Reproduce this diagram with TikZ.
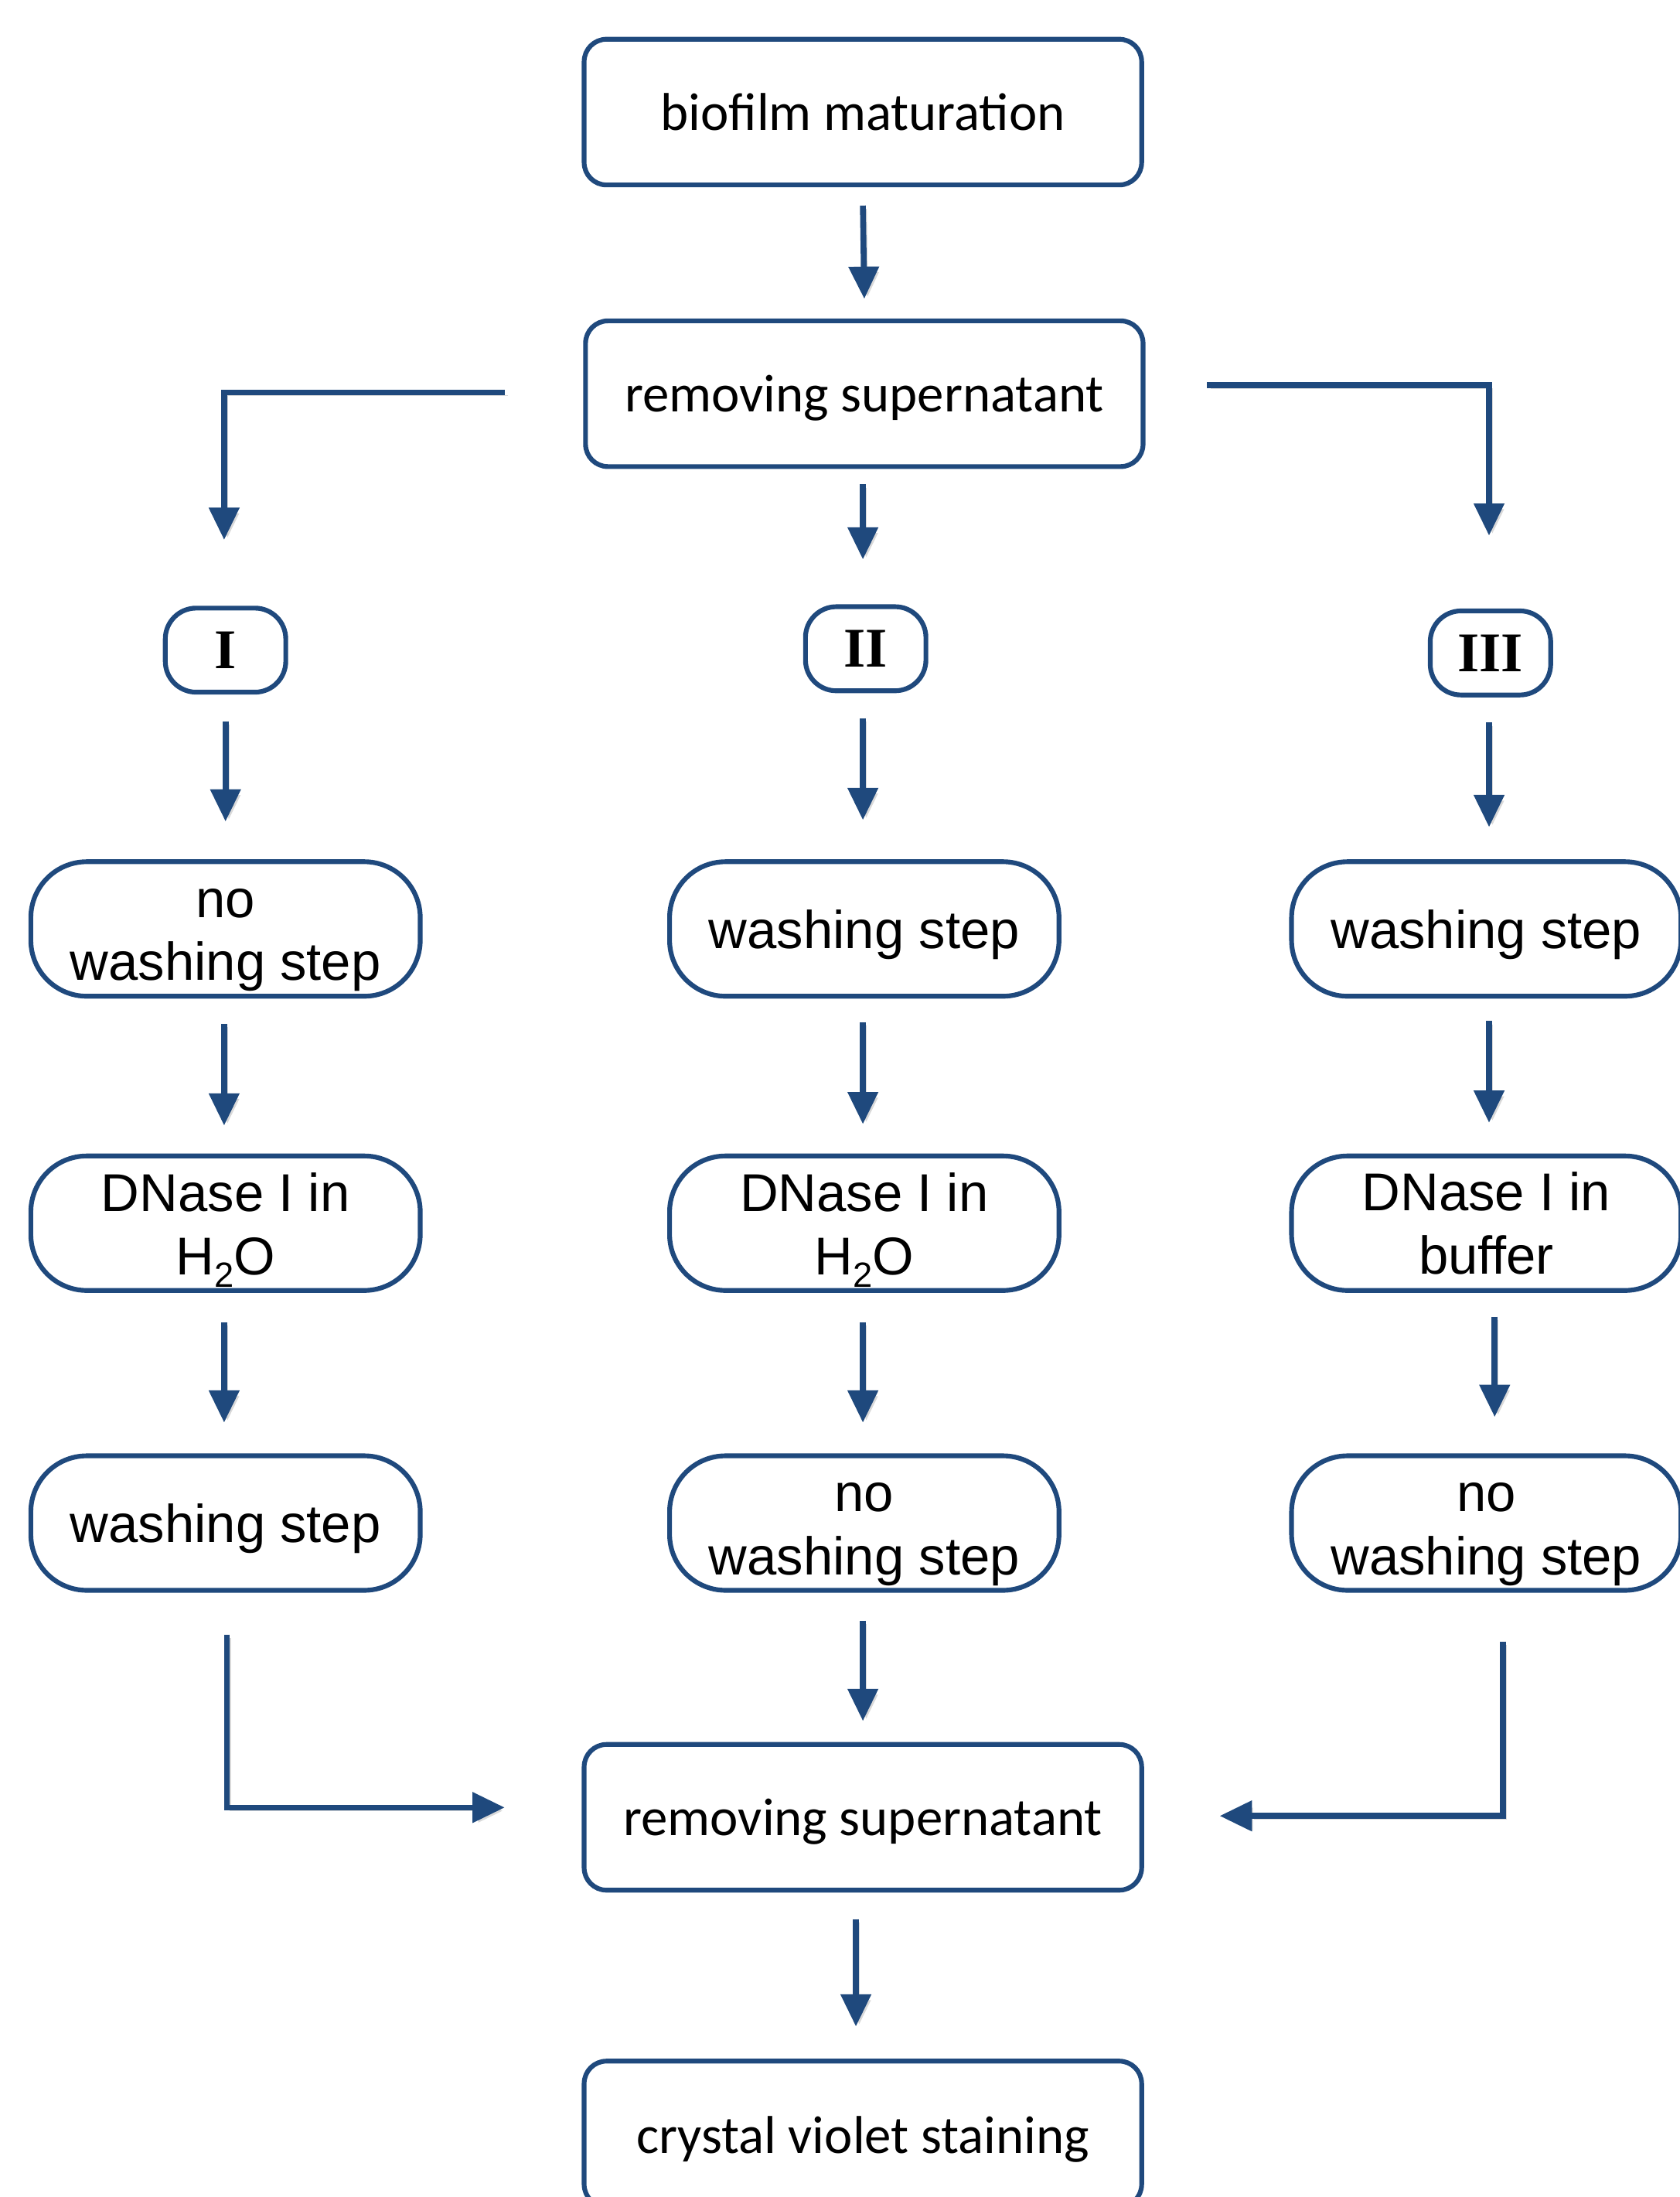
\documentclass[tikz,border=0pt]{standalone}
\usepackage{fontspec}
\setmainfont{Liberation Sans}
\newfontfamily\calfont{Carlito}
\newfontfamily\romfont{Liberation Serif}
\usetikzlibrary{arrows.meta,calc}
\definecolor{flowblue}{RGB}{31,73,125}
\newcommand{\subtwo}{\raisebox{-4.6pt}{\fontsize{12.5}{12.5}\selectfont 2}}
\tikzset{
  topbox/.style={draw=flowblue, line width=1.7pt, rounded corners=8pt, minimum width=199pt, minimum height=52pt, inner sep=0pt},
  toptxt/.style={inner sep=0pt, font=\calfont\fontsize{19}{23}\selectfont},
  colbox/.style={draw=flowblue, line width=1.7pt, rounded corners=20pt, minimum width=139pt, minimum height=48pt, inner sep=0pt},
  coltxt/.style={inner sep=0pt, align=center, font=\fontsize{19}{22.5}\selectfont},
  numbox/.style={draw=flowblue, line width=1.7pt, rounded corners=11pt, minimum width=43pt, minimum height=30pt, inner sep=0pt, font=\romfont\bfseries\fontsize{20}{23}\selectfont},
  arr/.style={draw=flowblue, line width=2.1pt, -{Triangle[length=11.5pt,width=10.5pt]},
    preaction={draw=black!15, transform canvas={xshift=1.2pt,yshift=-1.2pt}}}
}
\begin{document}
\begin{tikzpicture}[x=0.5pt,y=-0.5pt]
\useasboundingbox (0,0) rectangle (1199,1568);
% top part
\node[topbox] (A) at (616,80) {};
\node[toptxt] (At) at (616,80) {biofilm maturation};
\node[topbox] (B) at (617,281) {};
\node[toptxt] (Bt) at (617,284) {removing supernatant};
\node[numbox] (I) at (161,464) {I};
\node[numbox] (II) at (618,463) {II};
\node[numbox] (III) at (1064,466) {III};
% row 1
\node[colbox] (l1) at (161,663) {};
\node[coltxt] (l1t) at (161,671) {no\\washing step};
\node[colbox] (m1) at (617,663) {};
\node[coltxt] (m1t) at (617,667) {washing step};
\node[colbox] (r1) at (1061,663) {};
\node[coltxt] (r1t) at (1061,667) {washing step};
% row 2
\node[colbox] (l2) at (161,873) {};
\node[coltxt] (l2t) at (161,878) {DNase I in\\H\subtwo O};
\node[colbox] (m2) at (617,873) {};
\node[coltxt] (m2t) at (617,878) {DNase I in\\H\subtwo O};
\node[colbox] (r2) at (1061,873) {};
\node[coltxt] (r2t) at (1061,873) {DNase I in\\buffer};
% row 3
\node[colbox] (l3) at (161,1087) {};
\node[coltxt] (l3t) at (161,1091) {washing step};
\node[colbox] (m3) at (617,1087) {};
\node[coltxt] (m3t) at (617,1095) {no\\washing step};
\node[colbox] (r3) at (1061,1087) {};
\node[coltxt] (r3t) at (1061,1095) {no\\washing step};
% bottom
\node[topbox] (C) at (616,1297) {};
\node[toptxt] (Ct) at (616,1300) {removing supernatant};
\node[topbox] (D) at (616,1523) {};
\node[toptxt] (Dt) at (616,1527) {crystal violet staining};
% arrows
\draw[arr] ($(A.south)+(0,13)$) -- ($(B.north)+(0,-14)$);
\draw[arr] ($(B.south)+(-1,11)$) -- ($(II.north)+(-2,-32)$);
\coordinate (bl) at ($(B.west)+(-56,-1)$);
\coordinate (br) at ($(B.east)+(44,-6)$);
\draw[arr] (bl) -| ($(I.north)+(-1,-47)$);
\draw[arr] (br) -| ($(III.north)+(-1,-52)$);
\draw[arr] ($(I.south)+(0,19)$) -- ($(l1.north)+(0,-27)$);
\draw[arr] ($(II.south)+(-2,18)$) -- ($(m1.north)+(-1,-28)$);
\draw[arr] ($(III.south)+(-1,18)$) -- ($(r1.north)+(2,-23)$);
\draw[arr] ($(l1.south)+(-1,18)$) -- ($(l2.north)+(-1,-20)$);
\draw[arr] ($(m1.south)+(-1,17)$) -- ($(m2.north)+(-1,-21)$);
\draw[arr] ($(r1.south)+(2,16)$) -- ($(r2.north)+(2,-22)$);
\draw[arr] ($(l2.south)+(-1,21)$) -- ($(l3.north)+(-1,-22)$);
\draw[arr] ($(m2.south)+(-1,21)$) -- ($(m3.north)+(-1,-22)$);
\draw[arr] ($(r2.south)+(6,17)$) -- ($(r3.north)+(6,-26)$);
\draw[arr] ($(m3.south)+(-1,20)$) -- ($(C.north)+(0,-15)$);
\coordinate (cl) at ($(l3.south)+(1,30)$);
\coordinate (cr) at ($(r3.south)+(12,35)$);
\draw[arr] (cl) |- ($(C.west)+(-55,-7)$);
\draw[arr] (cr) |- ($(C.east)+(54,-1)$);
\draw[arr] ($(C.south)+(-5,19)$) -- ($(D.north)+(-5,-23)$);
\end{tikzpicture}
\end{document}
